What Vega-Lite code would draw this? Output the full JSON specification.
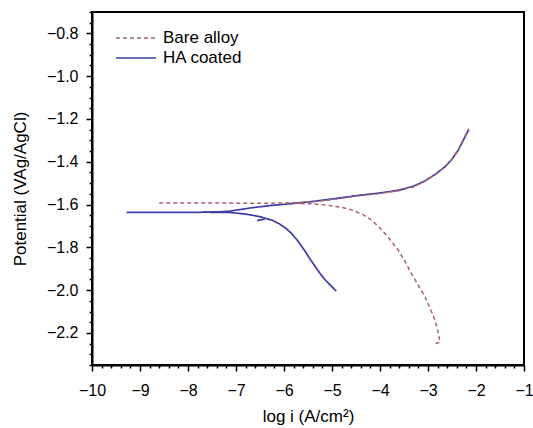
{
  "$schema": "https://vega.github.io/schema/vega-lite/v6.json",
  "width": 432,
  "height": 353,
  "autosize": "none",
  "padding": {"left": 92, "top": 12, "right": 9, "bottom": 63},
  "config": {
    "font": "Liberation Sans",
    "view": {"stroke": "black", "strokeWidth": 2},
    "axis": {"grid": false, "domainColor": "black", "domainWidth": 2, "tickColor": "black", "tickWidth": 1.5, "labelColor": "black", "titleColor": "black", "labelFontSize": 16, "titleFontSize": 17, "titleFontWeight": "normal", "labelOverlap": false, "labelFlush": false},
    "legend": {"labelFontSize": 17, "labelColor": "black"}
  },
  "data": {"values": [
    {"s": "Bare alloy", "g": "b1", "o": 1, "x": -8.6, "y": -1.593},
    {"s": "Bare alloy", "g": "b1", "o": 2, "x": -7.5, "y": -1.593},
    {"s": "Bare alloy", "g": "b1", "o": 3, "x": -6.5, "y": -1.594},
    {"s": "Bare alloy", "g": "b1", "o": 4, "x": -6.0, "y": -1.593},
    {"s": "Bare alloy", "g": "b1", "o": 5, "x": -5.5, "y": -1.589},
    {"s": "Bare alloy", "g": "b1", "o": 6, "x": -5.0, "y": -1.577},
    {"s": "Bare alloy", "g": "b1", "o": 7, "x": -4.44, "y": -1.559},
    {"s": "Bare alloy", "g": "b1", "o": 8, "x": -4.0, "y": -1.548},
    {"s": "Bare alloy", "g": "b1", "o": 9, "x": -3.61, "y": -1.535},
    {"s": "Bare alloy", "g": "b1", "o": 10, "x": -3.3, "y": -1.517},
    {"s": "Bare alloy", "g": "b1", "o": 11, "x": -3.06, "y": -1.49},
    {"s": "Bare alloy", "g": "b1", "o": 12, "x": -2.85, "y": -1.46},
    {"s": "Bare alloy", "g": "b1", "o": 13, "x": -2.65, "y": -1.425},
    {"s": "Bare alloy", "g": "b1", "o": 14, "x": -2.5, "y": -1.388},
    {"s": "Bare alloy", "g": "b1", "o": 15, "x": -2.37, "y": -1.345},
    {"s": "Bare alloy", "g": "b1", "o": 16, "x": -2.28, "y": -1.303},
    {"s": "Bare alloy", "g": "b1", "o": 17, "x": -2.2, "y": -1.268},
    {"s": "Bare alloy", "g": "b1", "o": 18, "x": -2.15, "y": -1.245},
    {"s": "Bare alloy", "g": "b2", "o": 1, "x": -5.8, "y": -1.594},
    {"s": "Bare alloy", "g": "b2", "o": 2, "x": -5.4, "y": -1.597},
    {"s": "Bare alloy", "g": "b2", "o": 3, "x": -5.13, "y": -1.602},
    {"s": "Bare alloy", "g": "b2", "o": 4, "x": -4.8, "y": -1.613},
    {"s": "Bare alloy", "g": "b2", "o": 5, "x": -4.55, "y": -1.628},
    {"s": "Bare alloy", "g": "b2", "o": 6, "x": -4.35, "y": -1.648},
    {"s": "Bare alloy", "g": "b2", "o": 7, "x": -4.2, "y": -1.669},
    {"s": "Bare alloy", "g": "b2", "o": 8, "x": -4.03, "y": -1.703},
    {"s": "Bare alloy", "g": "b2", "o": 9, "x": -3.89, "y": -1.737},
    {"s": "Bare alloy", "g": "b2", "o": 10, "x": -3.75, "y": -1.775},
    {"s": "Bare alloy", "g": "b2", "o": 11, "x": -3.61, "y": -1.816},
    {"s": "Bare alloy", "g": "b2", "o": 12, "x": -3.47, "y": -1.87},
    {"s": "Bare alloy", "g": "b2", "o": 13, "x": -3.34, "y": -1.924},
    {"s": "Bare alloy", "g": "b2", "o": 14, "x": -3.2, "y": -1.978},
    {"s": "Bare alloy", "g": "b2", "o": 15, "x": -3.06, "y": -2.033},
    {"s": "Bare alloy", "g": "b2", "o": 16, "x": -2.95, "y": -2.088},
    {"s": "Bare alloy", "g": "b2", "o": 17, "x": -2.85, "y": -2.143},
    {"s": "Bare alloy", "g": "b2", "o": 18, "x": -2.78, "y": -2.205},
    {"s": "Bare alloy", "g": "b2", "o": 19, "x": -2.75, "y": -2.244},
    {"s": "Bare alloy", "g": "b2", "o": 20, "x": -2.85, "y": -2.25},
    {"s": "HA coated", "g": "h1", "o": 1, "x": -4.91, "y": -2.005},
    {"s": "HA coated", "g": "h1", "o": 2, "x": -5.02, "y": -1.98},
    {"s": "HA coated", "g": "h1", "o": 3, "x": -5.13, "y": -1.955},
    {"s": "HA coated", "g": "h1", "o": 4, "x": -5.24, "y": -1.925},
    {"s": "HA coated", "g": "h1", "o": 5, "x": -5.34, "y": -1.893},
    {"s": "HA coated", "g": "h1", "o": 6, "x": -5.45, "y": -1.857},
    {"s": "HA coated", "g": "h1", "o": 7, "x": -5.55, "y": -1.822},
    {"s": "HA coated", "g": "h1", "o": 8, "x": -5.62, "y": -1.799},
    {"s": "HA coated", "g": "h1", "o": 9, "x": -5.72, "y": -1.768},
    {"s": "HA coated", "g": "h1", "o": 10, "x": -5.83, "y": -1.738},
    {"s": "HA coated", "g": "h1", "o": 11, "x": -5.96, "y": -1.711},
    {"s": "HA coated", "g": "h1", "o": 12, "x": -6.1, "y": -1.69},
    {"s": "HA coated", "g": "h1", "o": 13, "x": -6.24, "y": -1.674},
    {"s": "HA coated", "g": "h1", "o": 14, "x": -6.36, "y": -1.666},
    {"s": "HA coated", "g": "h1", "o": 15, "x": -6.5, "y": -1.657},
    {"s": "HA coated", "g": "h1", "o": 16, "x": -6.7, "y": -1.648},
    {"s": "HA coated", "g": "h1", "o": 17, "x": -6.9, "y": -1.642},
    {"s": "HA coated", "g": "h1", "o": 18, "x": -7.14, "y": -1.637},
    {"s": "HA coated", "g": "h1", "o": 19, "x": -7.6, "y": -1.636},
    {"s": "HA coated", "g": "h1", "o": 20, "x": -8.5, "y": -1.637},
    {"s": "HA coated", "g": "h1", "o": 21, "x": -9.28, "y": -1.637},
    {"s": "HA coated", "g": "h2", "o": 1, "x": -7.7, "y": -1.636},
    {"s": "HA coated", "g": "h2", "o": 2, "x": -7.35, "y": -1.634},
    {"s": "HA coated", "g": "h2", "o": 3, "x": -7.14, "y": -1.631},
    {"s": "HA coated", "g": "h2", "o": 4, "x": -6.9, "y": -1.623},
    {"s": "HA coated", "g": "h2", "o": 5, "x": -6.7, "y": -1.616},
    {"s": "HA coated", "g": "h2", "o": 6, "x": -6.52, "y": -1.611},
    {"s": "HA coated", "g": "h2", "o": 7, "x": -6.3, "y": -1.605},
    {"s": "HA coated", "g": "h2", "o": 8, "x": -6.1, "y": -1.601},
    {"s": "HA coated", "g": "h2", "o": 9, "x": -5.8, "y": -1.595},
    {"s": "HA coated", "g": "h2", "o": 10, "x": -5.42, "y": -1.586},
    {"s": "HA coated", "g": "h2", "o": 11, "x": -5.0, "y": -1.574},
    {"s": "HA coated", "g": "h2", "o": 12, "x": -4.44, "y": -1.557},
    {"s": "HA coated", "g": "h2", "o": 13, "x": -4.0, "y": -1.546},
    {"s": "HA coated", "g": "h2", "o": 14, "x": -3.61, "y": -1.533},
    {"s": "HA coated", "g": "h2", "o": 15, "x": -3.3, "y": -1.514},
    {"s": "HA coated", "g": "h2", "o": 16, "x": -3.06, "y": -1.489},
    {"s": "HA coated", "g": "h2", "o": 17, "x": -2.85, "y": -1.459},
    {"s": "HA coated", "g": "h2", "o": 18, "x": -2.65, "y": -1.424},
    {"s": "HA coated", "g": "h2", "o": 19, "x": -2.5, "y": -1.388},
    {"s": "HA coated", "g": "h2", "o": 20, "x": -2.37, "y": -1.346},
    {"s": "HA coated", "g": "h2", "o": 21, "x": -2.28, "y": -1.306},
    {"s": "HA coated", "g": "h2", "o": 22, "x": -2.22, "y": -1.28},
    {"s": "HA coated", "g": "h2", "o": 23, "x": -2.15, "y": -1.25},
    {"s": "HA coated", "g": "h3", "o": 1, "x": -6.56, "y": -1.675},
    {"s": "HA coated", "g": "h3", "o": 2, "x": -6.4, "y": -1.668}
  ]},
  "encoding": {
    "x": {"field": "x", "type": "quantitative",
      "scale": {"domain": [-10, -1], "nice": false, "zero": false},
      "axis": {"title": "log i (A/cm²)", "values": [-10,-9.8,-9.6,-9.4,-9.2,-9,-8.8,-8.6,-8.4,-8.2,-8,-7.8,-7.6,-7.4,-7.2,-7,-6.8,-6.6,-6.4,-6.2,-6,-5.8,-5.6,-5.4,-5.2,-5,-4.8,-4.6,-4.4,-4.2,-4,-3.8,-3.6,-3.4,-3.2,-3,-2.8,-2.6,-2.4,-2.2,-2,-1.8,-1.6,-1.4,-1.2,-1],
        "labelExpr": "abs(datum.value - round(datum.value)) < 0.01 ? format(datum.value, 'd') : ''",
        "tickSize": {"condition": {"test": "abs(datum.value - round(datum.value)) < 0.01", "value": 6}, "value": 3},
        "labelPadding": 11, "titlePadding": 10}},
    "y": {"field": "y", "type": "quantitative",
      "scale": {"domain": [-2.35, -0.7], "nice": false, "zero": false},
      "axis": {"title": "Potential (VAg/AgCl)", "values": [-2.35,-2.3,-2.25,-2.2,-2.15,-2.1,-2.05,-2,-1.95,-1.9,-1.85,-1.8,-1.75,-1.7,-1.65,-1.6,-1.55,-1.5,-1.45,-1.4,-1.35,-1.3,-1.25,-1.2,-1.15,-1.1,-1.05,-1,-0.95,-0.9,-0.85,-0.8,-0.75,-0.7],
        "labelExpr": "abs(datum.value*5 - round(datum.value*5)) < 0.01 ? format(datum.value, '.1f') : ''",
        "tickSize": {"condition": {"test": "abs(datum.value*5 - round(datum.value*5)) < 0.01", "value": 6}, "value": 3},
        "labelPadding": 8, "titlePadding": 17}},
    "color": {"field": "s", "type": "nominal",
      "scale": {"domain": ["Bare alloy", "HA coated"], "range": ["#a8626e", "#3c3ca6"]},
      "legend": {"title": null, "orient": "none", "legendX": 33, "legendY": 15, "symbolType": "M-2,0H2", "symbolSize": 400, "symbolStrokeWidth": 1.6, "labelOffset": 16, "rowPadding": 1}},
    "strokeDash": {"field": "s", "type": "nominal",
      "scale": {"domain": ["Bare alloy", "HA coated"], "range": [[4, 3], [1, 0]]}},
    "detail": {"field": "g", "type": "nominal"},
    "order": {"field": "o", "type": "quantitative"}
  },
  "layer": [
    {"transform": [{"filter": "datum.s === 'HA coated'"}], "mark": {"type": "line", "strokeWidth": 1.7}},
    {"transform": [{"filter": "datum.s === 'Bare alloy'"}], "mark": {"type": "line", "strokeWidth": 1.5}}
  ]
}
